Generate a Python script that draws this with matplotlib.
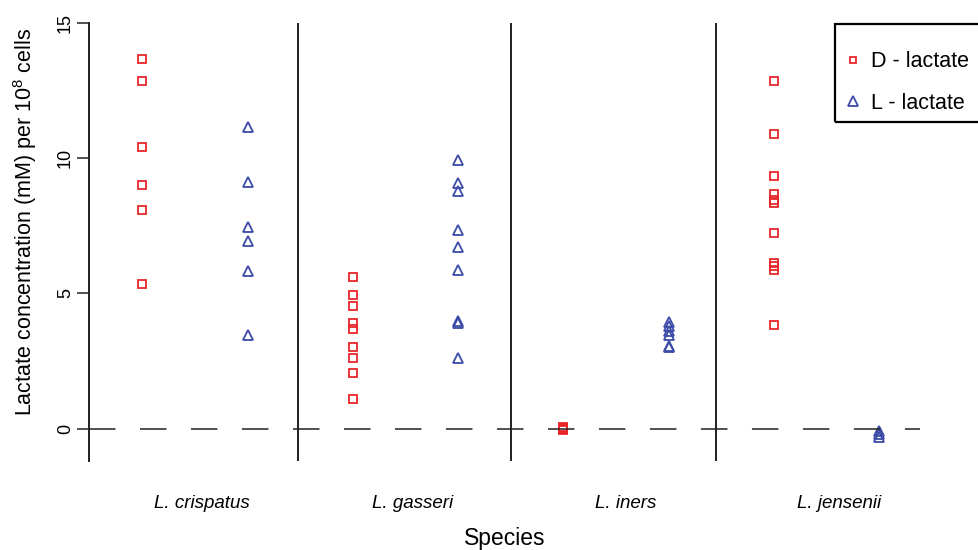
import matplotlib
matplotlib.use("Agg")
import matplotlib.pyplot as plt
from matplotlib.lines import Line2D
from matplotlib.patches import Rectangle

plt.rcParams["font.family"] = ["Liberation Sans", "DejaVu Sans"]
plt.rcParams["mathtext.default"] = "regular"

# Species groups
species = ["L. crispatus", "L. gasseri", "L. iners", "L. jensenii"]

# Lactate concentration (mM) per 10^8 cells
crispatus_D = [13.65, 12.85, 10.4, 9.0, 8.1, 5.35]
crispatus_L = [11.15, 9.12, 7.46, 6.93, 5.83, 3.45]
gasseri_D = [5.62, 4.95, 4.55, 3.9, 3.7, 3.0, 2.6, 2.05, 1.1]
gasseri_L = [9.95, 9.1, 8.8, 7.35, 6.7, 5.85, 3.98, 3.92, 2.6]
iners_D = [0.05, 0.02, 0.0, -0.02, -0.05]
iners_L = [3.95, 3.78, 3.62, 3.45, 3.05, 3.0]
jensenii_D = [12.85, 10.9, 9.35, 8.68, 8.44, 8.35, 7.24, 6.13, 6.0, 5.88, 3.82]
jensenii_L = [-0.1, -0.2, -0.3]

d_lactate = [crispatus_D, gasseri_D, iners_D, jensenii_D]
l_lactate = [crispatus_L, gasseri_L, iners_L, jensenii_L]

red = "#e8262b"
blue = "#3b4ba7"
ink = "#231f20"

W, H = 979, 550
fig = plt.figure(figsize=(W / 100, H / 100), dpi=100)
ax = fig.add_axes([89 / W, (H - 461) / H, (920 - 89) / W, (461 - 23) / H])

for i in range(len(species)):
    xd = 2 * i + 1
    xl = 2 * i + 2
    ax.plot([xd] * len(d_lactate[i]), d_lactate[i], ls="none", marker="s", ms=5.4,
            mfc="none", mec=red, mew=1.3, clip_on=False)
    ax.plot([xl] * len(l_lactate[i]), l_lactate[i], ls="none", marker="^", ms=7,
            mfc="none", mec=blue, mew=1.3, clip_on=False)

# separators between species and zero line
for xs in [2.48, 4.5, 6.45]:
    ax.axvline(xs, color=ink, lw=1.4)
ax.axhline(0, color=ink, lw=1.1, dashes=(26.5 / 1.389 / 1.1, 24.5 / 1.389 / 1.1))

ax.set_xlim(0.494, 8.386)
ax.set_ylim(-1.2, 15)

for side in ["top", "right", "bottom"]:
    ax.spines[side].set_visible(False)
ax.spines["left"].set_color(ink)
ax.spines["left"].set_linewidth(1.4)

ax.set_yticks([0, 5, 10, 15])
ax.tick_params(axis="y", length=8.4, width=1.1, color=ink, pad=2.5, labelsize=13,
               labelrotation=90)
for lab in ax.get_yticklabels():
    lab.set_verticalalignment("center")
ax.set_xticks([])

# species names under each group
for pos, name in zip([1.57, 3.57, 5.59, 7.62], species):
    ax.text(pos, (461 - 503) / 438, name, transform=ax.get_xaxis_transform(),
            ha="center", va="center", fontsize=13.5, style="italic")

ax.set_xlabel("Species", fontsize=16.5, va="center")
ax.xaxis.set_label_coords(0.5, (461 - 538) / 438)
ax.set_ylabel("Lactate concentration (mM) per 10$^{8}$ cells", fontsize=15.5, va="center")
ax.yaxis.set_label_coords((25 - 89) / 831, (461 - 222) / 438)

# legend
handles = [
    Line2D([], [], ls="none", marker="s", ms=5, mfc="none", mec=red, mew=1.3),
    Line2D([], [], ls="none", marker="^", ms=6.5, mfc="none", mec=blue, mew=1.3),
]
ax.legend(handles, ["D - lactate", "L - lactate"], loc="center left",
          bbox_to_anchor=(831 / W, 1 - 82.5 / H), bbox_transform=fig.transFigure,
          frameon=False, fontsize=15.5, borderpad=0, handlelength=1.0,
          handletextpad=0.38, labelspacing=0.97)
fig.add_artist(Rectangle((835 / W, 1 - 122.3 / H), 160 / W, 98.3 / H,
                         transform=fig.transFigure, fill=False, ec="black", lw=1.6))

fig.savefig("out.png", dpi=100)
